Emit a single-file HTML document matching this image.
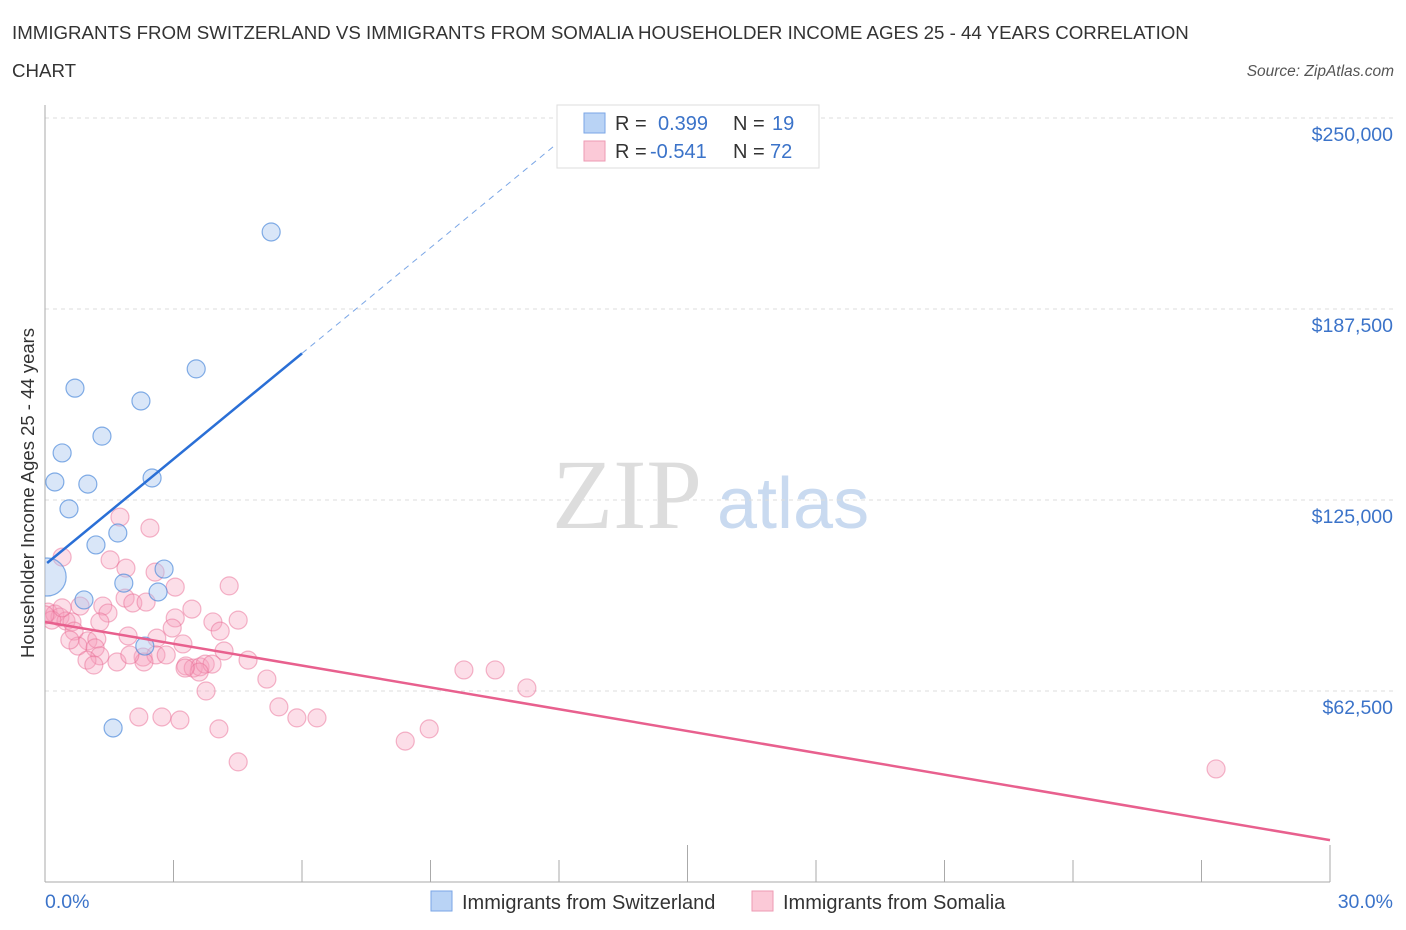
<!DOCTYPE html>
<html><head><meta charset="utf-8"><style>
body{margin:0;background:#fff;font-family:"Liberation Sans",sans-serif;}
svg{display:block}
</style></head><body>
<svg width="1406" height="930" xmlns="http://www.w3.org/2000/svg">
<defs><clipPath id="plot"><rect x="45" y="100" width="1360" height="782"/></clipPath></defs>
<text x="12" y="39" font-size="18.7" fill="#333">IMMIGRANTS FROM SWITZERLAND VS IMMIGRANTS FROM SOMALIA HOUSEHOLDER INCOME AGES 25 - 44 YEARS CORRELATION</text>
<text x="12" y="77" font-size="18.7" fill="#333">CHART</text>
<text x="1394" y="76" font-size="15.5" fill="#555" font-style="italic" text-anchor="end">Source: ZipAtlas.com</text>
<g>
<text x="552" y="528" font-size="100" font-family="Liberation Serif,serif" fill="#ddd">ZIP</text>
<text x="717" y="528" font-size="72" fill="#c9daf0">atlas</text>
</g>
<g id="grid"></g>
<g id="axes"></g>
<g id="marks" clip-path="url(#plot)"></g>
<text transform="translate(34,493) rotate(-90)" font-size="18.5" fill="#333" text-anchor="middle">Householder Income Ages 25 - 44 years</text>
<text x="45" y="908" font-size="19.5" fill="#3b73c9">0.0%</text>
<text x="1393" y="908" font-size="19.5" fill="#3b73c9" text-anchor="end">30.0%</text>
<g>
<rect x="557" y="105" width="262" height="63" fill="#fff" stroke="#ddd"/>
<rect x="584" y="113" width="21" height="20" fill="#b9d3f5" stroke="#7aa6e6"/>
<rect x="584" y="141" width="21" height="20" fill="#fbc9d7" stroke="#ee9ab3"/>
<text x="615" y="130" font-size="20" fill="#333">R = <tspan x="658" fill="#3b73c9">0.399</tspan><tspan x="733" fill="#333">N = </tspan><tspan x="772" fill="#3b73c9">19</tspan></text>
<text x="615" y="158" font-size="20" fill="#333">R = <tspan x="650" fill="#3b73c9">-0.541</tspan><tspan x="733" fill="#333">N = </tspan><tspan x="770" fill="#3b73c9">72</tspan></text>
</g>
<g>
<rect x="431" y="891" width="21" height="20" fill="#b9d3f5" stroke="#7aa6e6"/>
<text x="462" y="909" font-size="20" fill="#333">Immigrants from Switzerland</text>
<rect x="752" y="891" width="21" height="20" fill="#fbc9d7" stroke="#ee9ab3"/>
<text x="783" y="909" font-size="20" fill="#333">Immigrants from Somalia</text>
</g>
</svg>
<script>
const yTicks=[62500,125000,187500,250000];
const yTickLabels=["$62,500","$125,000","$187,500","$250,000"];
const xTicks=[0,3,6,9,12,15,18,21,24,27,30];
const swissX=[5.28,3.53,0.70,2.24,1.33,0.40,0.23,1.00,2.50,0.56,1.70,1.19,1.84,2.78,2.64,0.91,2.33,1.59];
const swissY=[212.7,167.9,161.6,157.4,145.9,140.4,130.9,130.2,132.2,122.1,114.2,110.3,97.8,102.4,94.9,92.3,77.2,50.4];
const swissBigX=[0.05];
const swissBigY=[99.8];
const somX=[0.40,1.75,2.45,1.52,1.89,2.57,3.04,4.30,0.07,0.23,0.35,0.49,0.63,0.16,0.82,1.35,1.47,1.87,2.05,2.36,3.43,3.04,3.92,4.51,2.97,0.68,1.00,1.21,1.94,2.61,3.22,4.09,0.77,1.17,1.28,0.98,1.68,1.14,2.29,2.59,2.31,2.83,4.18,4.74,3.29,3.46,3.62,3.74,3.90,3.60,5.18,3.76,5.46,2.19,2.73,3.15,5.88,6.35,4.06,4.51,8.41,8.97,9.78,10.51,11.25,27.34,3.27,1.28,0.40,0.00,1.98,0.58];
const somY=[106.3,119.4,115.8,105.4,102.7,101.4,96.5,96.9,88.3,87.7,86.7,85.4,85.1,85.7,90.3,90.3,88.0,92.9,91.3,91.6,89.3,86.4,85.1,85.7,83.1,82.1,78.9,79.5,80.5,79.8,77.9,82.1,77.2,76.6,74.0,72.6,72.0,71.0,73.6,74.3,72.0,74.3,75.6,72.6,70.7,70.0,70.4,71.3,71.3,68.7,66.4,62.5,57.3,54.0,54.0,53.0,53.7,53.7,50.1,39.3,46.1,50.1,69.4,69.4,63.5,37.0,70.0,85.1,89.7,87.4,74.3,79.2];
const swissTrend=[103.8,11.53];
const somTrend=[85.1,-2.38];
const NS="http://www.w3.org/2000/svg";
const X=p=>45+p*(1285/30);
const Y=v=>882-v*191/62500;
const Yk=k=>Y(k*1000);
function mk(t,a,parent){const e=document.createElementNS(NS,t);for(const k in a)e.setAttribute(k,a[k]);document.getElementById(parent).appendChild(e);return e;}
yTicks.forEach((v,i)=>{
 const g=mk('line',{x1:45,x2:1395,y1:Y(v),y2:Y(v),stroke:'#ddd','stroke-dasharray':'4,4'},'grid');
 
 
 const t=mk('text',{x:1393,y:Y(v)+23,'font-size':19.5,fill:'#3b73c9','text-anchor':'end'},'axes');
 t.textContent=yTickLabels[i];
 
 
});
const ya=mk('line',{x1:45,x2:45,y1:105,y2:882,stroke:'#aaa'},'axes');


const xa=mk('line',{x1:45,x2:1330,y1:882,y2:882,stroke:'#aaa'},'axes');


xTicks.forEach(p=>{
 const l=mk('line',{x1:X(p),x2:X(p),y1:882,y2:p%15===0&&p>0?845:860,stroke:'#aaa'},'axes');
 
 
});
somX.forEach((p,i)=>{
 const c=mk('circle',{cx:X(p),cy:Yk(somY[i]),r:9,fill:'rgba(246,160,188,0.35)',stroke:'rgba(234,110,150,0.5)','stroke-width':1.2},'marks');
 
 
});
swissX.forEach((p,i)=>{
 const c=mk('circle',{cx:X(p),cy:Yk(swissY[i]),r:9,fill:'rgba(170,200,240,0.45)',stroke:'rgba(80,140,220,0.7)','stroke-width':1.2},'marks');
 
 
});
swissBigX.forEach((p,i)=>{
 const c=mk('circle',{cx:X(p),cy:Yk(swissBigY[i]),r:19,fill:'rgba(170,200,240,0.45)',stroke:'rgba(80,140,220,0.7)','stroke-width':1.2},'marks');
 
 
});
const bt=x=>swissTrend[0]+swissTrend[1]*x;
const st=x=>somTrend[0]+somTrend[1]*x;
const b1=mk('line',{x1:X(0.05),y1:Yk(bt(0.05)),x2:X(6),y2:Yk(bt(6)),stroke:'#2a6fd6','stroke-width':2.5},'marks');


const b2=mk('line',{x1:X(6),y1:Yk(bt(6)),x2:X(12),y2:Yk(bt(12)),stroke:'#7aa6e6','stroke-width':1,'stroke-dasharray':'6,5'},'marks');


const p1=mk('line',{x1:X(0),y1:Yk(st(0)),x2:X(30),y2:Yk(st(30)),stroke:'#e8608e','stroke-width':2.5},'marks');


</script>
</body></html>
